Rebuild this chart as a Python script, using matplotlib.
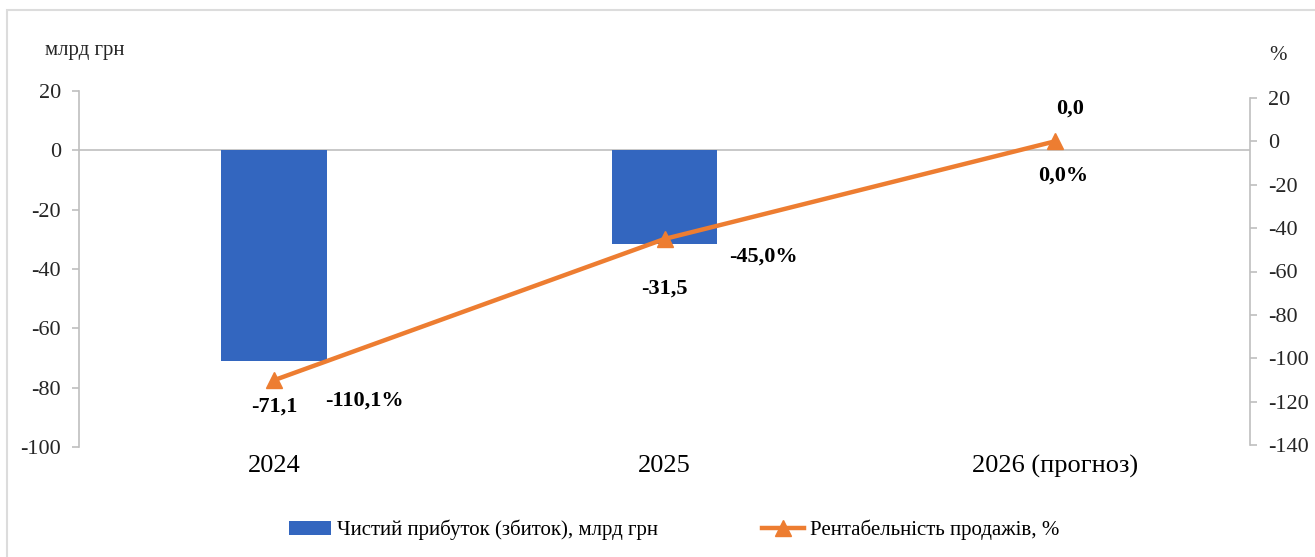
import numpy as np
import matplotlib.pyplot as plt
from matplotlib.patches import Rectangle

# categories and series
years = ["2024", "2025", "2026 (прогноз)"]
net_profit = [-71.1, -31.5, 0.0]        # млрд грн
profitability = [-110.1, -45.0, 0.0]    # %

profit_labels = ["-71,1", "-31,5", "0,0"]
pct_labels = ["-110,1%", "-45,0%", "0,0%"]

left_ticks = [20, 0, -20, -40, -60, -80, -100]
right_ticks = [20, 0, -20, -40, -60, -80, -100, -120, -140]

# label offsets in pixels (x, y) relative to each point
pct_offsets = [(90, -20), (99, -18), (8, -34)]

BLUE = "#3366BF"
ORANGE = "#ED7D31"
GREY = "#BFBFBF"
TXT = "#262626"

plt.rcParams['font.family'] = ['Liberation Serif', 'DejaVu Serif']
plt.rcParams['axes.unicode_minus'] = False

fig = plt.figure(figsize=(13.15, 5.57), dpi=100)
W, H = 1315, 557

# light frame around the chart area
fig.patches.append(Rectangle((7 / W, -0.1), 1.2, (H - 10) / H + 0.1,
                             transform=fig.transFigure, fill=False,
                             edgecolor="#DCDCDC", linewidth=1.5))

ax = fig.add_axes([79 / W, (H - 447) / H, (1250 - 79) / W, (447 - 91) / H])
# secondary (percent) axis is a little shorter than the primary one
ax2 = fig.add_axes([79 / W, (H - 445) / H, (1250 - 79) / W, (445 - 98) / H],
                   sharex=ax)
ax2.yaxis.tick_right()
ax2.yaxis.set_label_position("right")
ax2.tick_params(axis="x", bottom=False, labelbottom=False)

x = np.arange(len(years))

ax.bar(x, net_profit, width=0.27, color=BLUE, zorder=2,
       label="Чистий прибуток (збиток), млрд грн")
ax.axhline(0, color=GREY, linewidth=1.2, zorder=1)

ax2.plot(x, profitability, color=ORANGE, linewidth=3.2, marker="^",
         markersize=11, zorder=3, label="Рентабельність продажів, %")

ax.set_xlim(-0.5, 2.5)
ax.set_ylim(-100, 20)
ax.set_yticks(left_ticks)
ax2.set_ylim(-140, 20)
ax2.set_yticks(right_ticks)

ax.set_xticks(x)
ax.set_xticklabels(years, fontsize=19, color="black")
ax.tick_params(axis="x", length=0, pad=6)

for a, side in ((ax, "left"), (ax2, "right")):
    for s in a.spines.values():
        s.set_visible(False)
    a.spines[side].set_visible(True)
    a.spines[side].set_color(GREY)
    a.spines[side].set_linewidth(1.2)
    a.tick_params(axis="y", length=5, width=1.2, color=GREY,
                  labelsize=16, labelcolor=TXT, pad=8)

ax.patch.set_visible(False)
ax2.patch.set_visible(False)

# bar value labels
for i, (v, lab) in enumerate(zip(net_profit, profit_labels)):
    dy = -45 if v < 0 else 42
    ax.annotate(lab, (x[i], v), xytext=(15 if v == 0 else 0, dy),
                textcoords="offset pixels", ha="center", va="center",
                fontsize=16, fontweight="bold", color="black")

# line value labels
for i, (v, lab) in enumerate(zip(profitability, pct_labels)):
    ax2.annotate(lab, (x[i], v), xytext=pct_offsets[i],
                 textcoords="offset pixels", ha="center", va="center",
                 fontsize=16, fontweight="bold", color="black")

# axis unit captions
fig.text(45 / W, 1 - 50 / H, "млрд грн", fontsize=15, color=TXT,
         ha="left", va="center")
fig.text(1278 / W, 1 - 55 / H, "%", fontsize=15, color=TXT,
         ha="center", va="center")

h1, l1 = ax.get_legend_handles_labels()
h2, l2 = ax2.get_legend_handles_labels()
fig.legend(h1 + h2, l1 + l2, loc="center", bbox_to_anchor=(0.513, 1 - 530 / H),
           ncol=2, frameon=False, fontsize=15, columnspacing=5,
           handlelength=2.0, handletextpad=0.3)

fig.savefig("out.png", dpi=100)
